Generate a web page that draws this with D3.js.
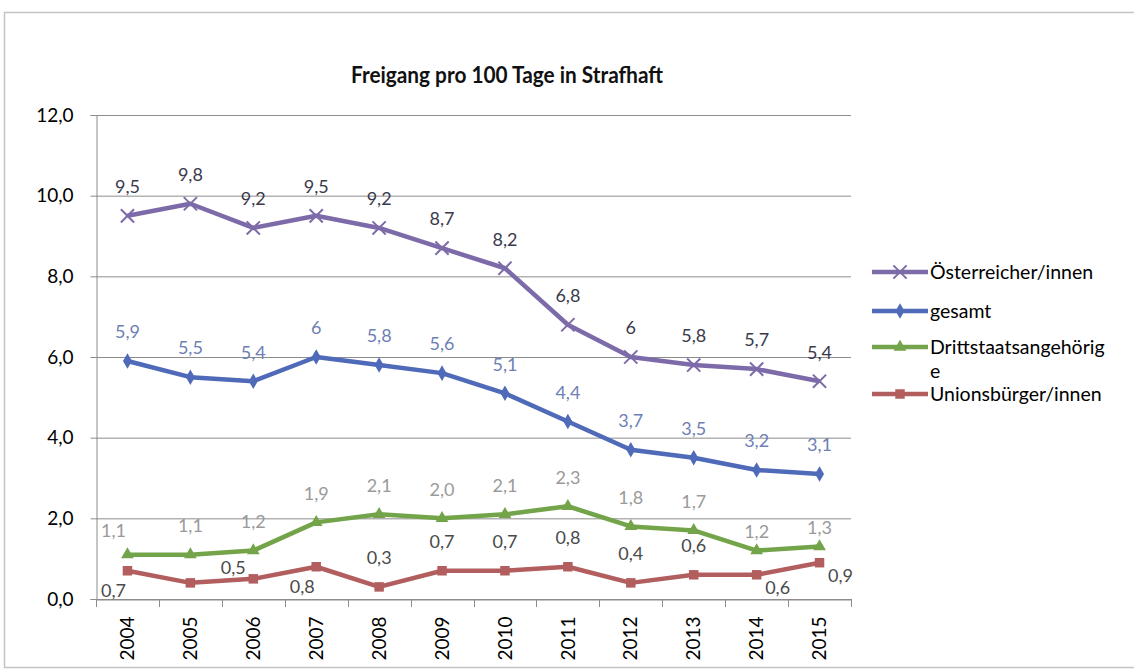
<!DOCTYPE html>
<html>
<head>
<meta charset="utf-8">
<script src="https://cdn.jsdelivr.net/npm/d3@7"></script>
<style>
  html, body { margin: 0; padding: 0; background: #fff; }
  svg { display: block; }
  text { font-family: Lato, "Open Sans", sans-serif; }
</style>
</head>
<body>
<svg id="chart" width="1134" height="672"></svg>
<script>
// Freigang pro 100 Tage in Strafhaft, 2004–2015
const years = ["2004","2005","2006","2007","2008","2009","2010","2011","2012","2013","2014","2015"];
const oesterreicher = [9.5, 9.8, 9.2, 9.5, 9.2, 8.7, 8.2, 6.8, 6.0, 5.8, 5.7, 5.4];
const gesamt        = [5.9, 5.5, 5.4, 6.0, 5.8, 5.6, 5.1, 4.4, 3.7, 3.5, 3.2, 3.1];
const drittstaat    = [1.1, 1.1, 1.2, 1.9, 2.1, 2.0, 2.1, 2.3, 1.8, 1.7, 1.2, 1.3];
const union         = [0.7, 0.4, 0.5, 0.8, 0.3, 0.7, 0.7, 0.8, 0.4, 0.6, 0.6, 0.9];
// label text as printed on the chart (whole numbers without decimals for two series)
const oesterreicherLabels = ["9,5","9,8","9,2","9,5","9,2","8,7","8,2","6,8","6","5,8","5,7","5,4"];
const gesamtLabels        = ["5,9","5,5","5,4","6","5,8","5,6","5,1","4,4","3,7","3,5","3,2","3,1"];
const drittstaatLabels    = ["1,1","1,1","1,2","1,9","2,1","2,0","2,1","2,3","1,8","1,7","1,2","1,3"];
const unionLabels         = ["0,7",null,"0,5","0,8","0,3","0,7","0,7","0,8","0,4","0,6","0,6","0,9"];
const yTicks = [0, 2, 4, 6, 8, 10, 12];
const seriesNames = ["Österreicher/innen", "gesamt", "Drittstaatsangehörige", "Unionsbürger/innen"];

// placement of data labels around their points
const unionPlacement = ["bl", null, "ml", "bl", "a", "a", "a", "a", "a", "a", "br", "br"];
const drittPlacement = ["al", "a", "a", "a", "a", "a", "a", "a", "a", "a", "as", "as"];
const placeOffset = {
  a:  [0, -29],
  as: [0, -19],
  al: [-14, -24],
  ml: [-20, -11],
  bl: [-14, 20],
  br: [21, 13]
};

const svg = d3.select("#chart");
const W = 1134;
const plot = { left: 96, right: 851, top: 115, bottom: 599 };

// outer frame
svg.append("rect")
  .attr("x", 4.5).attr("y", 12.5)
  .attr("width", W + 10).attr("height", 655)
  .attr("fill", "#fff").attr("stroke", "#c4c4c4").attr("stroke-width", 1.5);

const x = d3.scaleBand().domain(years).range([plot.left, plot.right]);
const y = d3.scaleLinear().domain([0, 12]).range([plot.bottom, plot.top]);
const cx = d => x(d) + x.bandwidth() / 2;

// horizontal gridlines
svg.append("g")
  .selectAll("line")
  .data(yTicks)
  .join("line")
  .attr("x1", plot.left).attr("x2", plot.right)
  .attr("y1", d => y(d) + 0.5).attr("y2", d => y(d) + 0.5)
  .attr("stroke", "#8c8c8c").attr("stroke-width", 1);

// y axis
const yAxis = svg.append("g")
  .attr("transform", `translate(${plot.left + 0.5},0)`)
  .call(d3.axisLeft(y).tickValues(yTicks).tickSize(6).tickPadding(17)
    .tickFormat(d => d3.format(".1f")(d).replace(".", ",")));
yAxis.select(".domain").attr("stroke", "#8c8c8c");
yAxis.selectAll(".tick line").attr("stroke", "#8c8c8c");
yAxis.selectAll(".tick text")
  .attr("fill", "#000").style("font-size", "19px")
  .attr("font-family", "Lato, sans-serif");

// x axis with tick marks between categories
const xAxis = svg.append("g")
  .attr("transform", `translate(0,${plot.bottom + 0.5})`)
  .call(d3.axisBottom(x).tickSize(0).tickPadding(0));
xAxis.select(".domain").attr("stroke", "#8c8c8c");
xAxis.selectAll(".tick text")
  .attr("fill", "#000").style("font-size", "19px")
  .attr("font-family", "Lato, sans-serif")
  .attr("text-anchor", "end")
  .attr("dy", "0.35em")
  .attr("transform", "translate(0,17) rotate(-90)");
svg.append("g")
  .selectAll("line")
  .data(d3.range(years.length + 1))
  .join("line")
  .attr("x1", i => Math.round(plot.left + i * x.step()) + 0.5)
  .attr("x2", i => Math.round(plot.left + i * x.step()) + 0.5)
  .attr("y1", plot.bottom).attr("y2", plot.bottom + 8)
  .attr("stroke", "#8c8c8c");

// title
svg.append("text")
  .attr("x", 507).attr("y", 83)
  .attr("text-anchor", "middle")
  .attr("textLength", 312)
  .attr("lengthAdjust", "spacingAndGlyphs")
  .style("font-size", "22px").style("font-weight", "bold")
  .attr("fill", "#111")
  .text("Freigang pro 100 Tage in Strafhaft");

const series = [
  { name: seriesNames[0], values: oesterreicher, labels: oesterreicherLabels, color: "#7d6ba9", labelColor: "#3a3a4c", marker: "x" },
  { name: seriesNames[1], values: gesamt, labels: gesamtLabels, color: "#4f6ab8", labelColor: "#6f80b4", marker: "diamond" },
  { name: seriesNames[2], values: drittstaat, labels: drittstaatLabels, color: "#73a44a", labelColor: "#9a9a9a", marker: "triangle", placement: drittPlacement },
  { name: seriesNames[3], values: union, labels: unionLabels, color: "#b25e5e", labelColor: "#4a4a4a", marker: "square", placement: unionPlacement }
];

const line = d3.line().x((d, i) => cx(years[i])).y(d => y(d));

function drawMarker(g, type, color, px, py, size) {
  if (type === "x") {
    const s = size * 0.55;
    g.append("path")
      .attr("d", `M${px - s},${py - s}L${px + s},${py + s}M${px - s},${py + s}L${px + s},${py - s}`)
      .attr("stroke", color).attr("stroke-width", 2).attr("fill", "none");
  } else {
    const sym = { diamond: d3.symbolDiamond, triangle: d3.symbolTriangle, square: d3.symbolSquare }[type];
    const area = { diamond: 70, triangle: 70, square: 90 }[type];
    g.append("path")
      .attr("d", d3.symbol().type(sym).size(area)())
      .attr("transform", `translate(${px},${py})`)
      .attr("fill", color);
  }
}

series.forEach(s => {
  const g = svg.append("g");
  g.append("path")
    .datum(s.values)
    .attr("d", line)
    .attr("fill", "none")
    .attr("stroke", s.color)
    .attr("stroke-width", 4.5)
    .attr("stroke-linejoin", "round");
  s.values.forEach((v, i) => drawMarker(g, s.marker, s.color, cx(years[i]), y(v), 12));
  s.values.forEach((v, i) => {
    const txt = s.labels[i];
    if (txt == null) return;
    const code = s.placement ? s.placement[i] : "a";
    const off = placeOffset[code];
    g.append("text")
      .attr("x", cx(years[i]) + off[0])
      .attr("y", y(v) + off[1])
      .attr("dy", "0.35em")
      .attr("text-anchor", "middle")
      .style("font-size", "18px")
      .attr("fill", s.labelColor)
      .text(txt);
  });
});

// legend (the long entry wraps onto a second line)
const legendRows = [272, 311, 347, 394];
const legend = svg.append("g");
series.forEach((s, i) => {
  const ly = legendRows[i];
  legend.append("line")
    .attr("x1", 872).attr("x2", 928)
    .attr("y1", ly).attr("y2", ly)
    .attr("stroke", s.color).attr("stroke-width", 4.5);
  drawMarker(legend, s.marker, s.color, 900, ly, 12);
  const t = legend.append("text")
    .attr("x", 930).attr("y", ly)
    .attr("dy", "0.35em")
    .style("font-size", "19.5px")
    .attr("fill", "#000");
  if (s.name === "Drittstaatsangehörige") {
    t.text("Drittstaatsangehörig");
    legend.append("text")
      .attr("x", 930).attr("y", ly + 24)
      .attr("dy", "0.35em")
      .style("font-size", "19.5px")
      .attr("fill", "#000")
      .text("e");
  } else {
    t.text(s.name);
  }
});
</script>
</body>
</html>
